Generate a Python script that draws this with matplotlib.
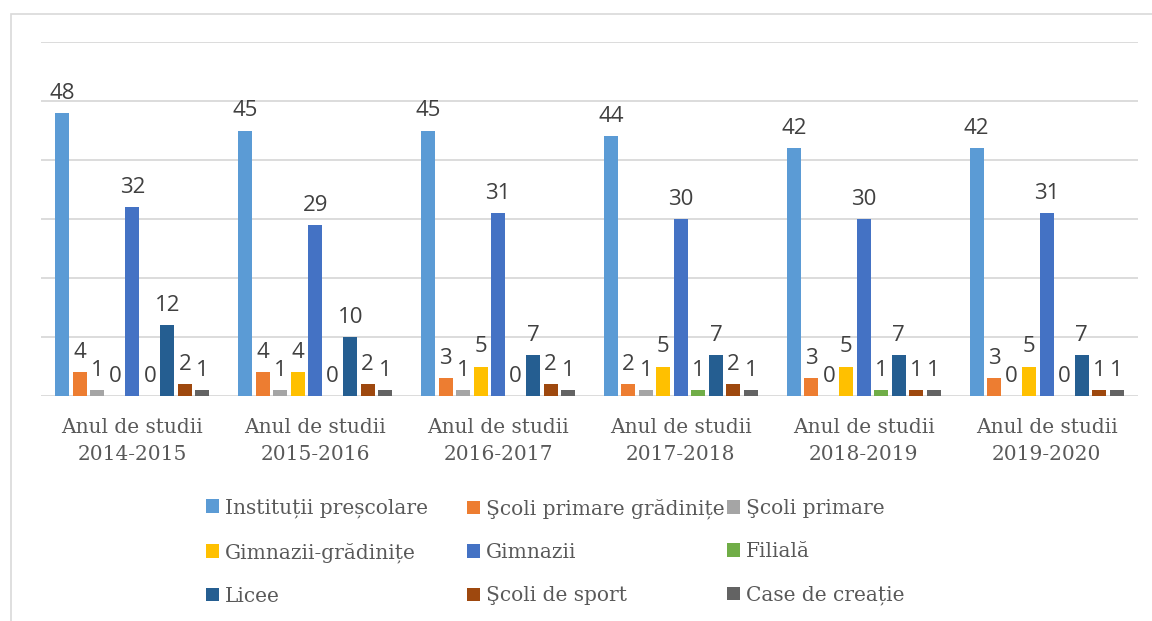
import numpy as np
import matplotlib.pyplot as plt
from matplotlib.patches import Patch, Rectangle

# school years on the x axis
years = ["2014-2015", "2015-2016", "2016-2017", "2017-2018", "2018-2019", "2019-2020"]
categories = ["Anul de studii\n" + y for y in years]

series_names = [
    "Instituții preșcolare",
    "Şcoli primare grădinițe",
    "Şcoli primare",
    "Gimnazii-grădinițe",
    "Gimnazii",
    "Filială",
    "Licee",
    "Şcoli de sport",
    "Case de creație",
]

prescolare = [48, 45, 45, 44, 42, 42]
primare_gradinite = [4, 4, 3, 2, 3, 3]
primare = [1, 1, 1, 1, 0, 0]
gimnazii_gradinite = [0, 4, 5, 5, 5, 5]
gimnazii = [32, 29, 31, 30, 30, 31]
filiala = [0, 0, 0, 1, 1, 0]
licee = [12, 10, 7, 7, 7, 7]
sport = [2, 2, 2, 2, 1, 1]
creatie = [1, 1, 1, 1, 1, 1]

values = [prescolare, primare_gradinite, primare, gimnazii_gradinite,
          gimnazii, filiala, licee, sport, creatie]

colors = ["#5B9BD5", "#ED7D31", "#A5A5A5", "#FFC000", "#4472C4",
          "#70AD47", "#255E91", "#9E480E", "#636363"]

W, H = 1152, 621
fig = plt.figure(figsize=(W / 100, H / 100), dpi=100)
ax = fig.add_axes([41 / W, 1 - 396 / H, (1138 - 41) / W, (396 - 42) / H])

x = np.arange(len(years))
slot = 0.0957
bar_w = 0.0766
n = len(values)

for i, (vals, col) in enumerate(zip(values, colors)):
    offset = (i - (n - 1) / 2) * slot
    bars = ax.bar(x + offset, vals, width=bar_w, color=col, zorder=3)
    ax.bar_label(bars, labels=[str(v) for v in vals], padding=6.5,
                 fontsize=16, color="#404040", family="Open Sans")

ax.set_xlim(-0.5, len(years) - 0.5)
ax.set_ylim(0, 60)
ax.set_yticks(np.arange(0, 61, 10))
ax.yaxis.grid(True, color="#D9D9D9", linewidth=1.3, zorder=0)
ax.set_axisbelow(True)
ax.tick_params(axis="y", left=False, labelleft=False)
ax.set_xticks(x)
ax.set_xticklabels(categories, fontsize=14.5, color="#595959",
                   family="DejaVu Serif", linespacing=1.55)
ax.tick_params(axis="x", length=0, pad=16)
for s in ax.spines.values():
    s.set_visible(False)

# outer chart frame (cropped on the right and bottom)
fig.add_artist(Rectangle((11 / W, -0.05), 1.1, 1 - 14 / H + 0.05,
                         transform=fig.transFigure, fill=False,
                         edgecolor="#D9D9D9", linewidth=1.2))

# legend laid out row by row in three columns, like the original
handles = [Patch(facecolor=c, edgecolor="none") for c in colors]
col_x = [206, 467, 727]
for c in range(3):
    idx = [c, c + 3, c + 6]
    leg = fig.legend([handles[k] for k in idx], [series_names[k] for k in idx],
                     loc="center left", bbox_to_anchor=(col_x[c] / W, 1 - 552 / H),
                     frameon=False, borderpad=0, borderaxespad=0,
                     handlelength=0.65, handleheight=0.65, handletextpad=0.3,
                     labelspacing=1.2,
                     prop={"family": "DejaVu Serif", "size": 14.5})
    for t in leg.get_texts():
        t.set_color("#595959")

fig.savefig("out.png", dpi=100)
